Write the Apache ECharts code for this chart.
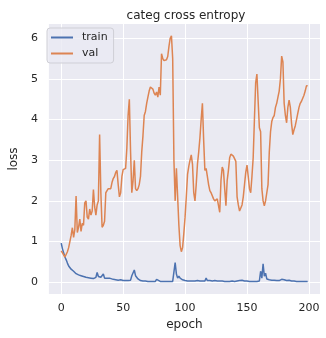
<!DOCTYPE html>
<html><head><meta charset="utf-8">
<script src="https://cdn.jsdelivr.net/npm/echarts@6/dist/echarts.min.js"></script>
<style>html,body{margin:0;padding:0;background:#fff}#c{width:326px;height:338px}</style>
</head><body><div id="c"></div>
<script>
const title = 'categ cross entropy';
const xName = 'epoch';
const yName = 'loss';
const xTicks = [0, 50, 100, 150, 200];
const yTicks = [0, 1, 2, 3, 4, 5, 6];
const trainEpochs = [0,1,2,3,4,5,6,7,8,9,10,11,12,13,14,15,16,17,18,19,20,21,22,23,24,25,26,27,28,29,30,31,32,33,34,35,36,37,38,39,40,42,44,46,48,50,52,54,56,57,58,59,60,61,62,64,66,68,70,72,74,76,77,78,80,82,84,86,88,90,91,92,93,94,95,96,97,98,100,102,104,106,107,108,110,112,114,116,117,118,120,122,124,126,128,130,132,134,136,138,140,142,144,145,146,148,150,152,154,156,158,160,161,162,163,164,165,166,167,168,170,172,174,176,178,179,180,182,184,186,188,190,192,194,196,198,199];
const trainLoss = [0.96,0.82,0.72,0.62,0.55,0.47,0.40,0.36,0.32,0.29,0.27,0.24,0.21,0.20,0.18,0.17,0.16,0.15,0.14,0.13,0.12,0.12,0.11,0.10,0.10,0.09,0.09,0.10,0.12,0.24,0.14,0.18,0.12,0.16,0.20,0.10,0.12,0.10,0.07,0.10,0.09,0.07,0.06,0.05,0.06,0.04,0.04,0.04,0.05,0.16,0.12,0.30,0.16,0.12,0.08,0.04,0.03,0.03,0.02,0.02,0.02,0.02,0.07,0.03,0.02,0.02,0.02,0.02,0.02,0.02,0.04,0.48,0.20,0.10,0.15,0.10,0.09,0.06,0.04,0.03,0.03,0.03,0.06,0.03,0.04,0.03,0.03,0.03,0.10,0.04,0.04,0.03,0.04,0.03,0.03,0.03,0.02,0.02,0.02,0.03,0.02,0.03,0.04,0.08,0.05,0.03,0.03,0.02,0.02,0.02,0.02,0.03,0.27,0.10,0.45,0.15,0.22,0.08,0.12,0.06,0.05,0.05,0.04,0.04,0.07,0.03,0.06,0.04,0.05,0.03,0.03,0.02,0.02,0.02,0.02,0.02,0.02];
const valEpochs = Array.from({length: 200}, (_, i) => i);
const valLoss = [0.77,0.72,0.70,0.62,0.65,0.75,0.85,1.00,1.15,1.34,1.10,1.30,2.12,1.22,1.35,1.55,1.25,1.45,1.40,1.95,2.00,1.60,1.55,1.80,1.65,1.75,2.28,1.85,1.65,1.90,2.00,3.63,2.20,1.35,1.40,1.50,2.20,2.25,2.30,2.32,2.30,2.45,2.55,2.60,2.70,2.75,2.40,2.10,2.20,2.60,2.77,2.78,2.80,3.30,4.10,4.50,3.20,2.20,2.50,3.00,2.30,2.25,2.30,2.40,2.60,3.20,3.60,4.10,4.20,4.40,4.55,4.70,4.80,4.80,4.75,4.65,4.60,4.68,4.55,4.80,4.60,5.62,5.50,5.45,5.47,5.47,5.55,5.80,6.00,6.06,5.50,3.00,2.00,2.80,2.10,1.40,0.90,0.75,0.85,1.20,1.60,2.10,2.65,2.85,3.00,3.13,2.90,2.20,2.00,2.40,2.90,3.20,3.55,4.00,4.40,3.50,2.75,2.80,2.60,2.40,2.25,2.20,2.18,2.05,2.00,2.03,2.05,2.07,1.72,2.50,2.83,2.75,2.30,1.88,2.50,2.75,3.06,3.15,3.18,3.10,3.06,2.97,2.10,1.90,1.75,1.71,1.90,2.10,2.40,2.70,2.88,2.60,2.30,2.20,2.60,3.06,4.00,4.90,5.12,5.14,3.80,3.70,2.30,2.00,1.88,2.00,2.20,2.40,3.20,3.70,3.95,4.05,4.10,4.30,4.40,4.55,4.70,5.00,5.56,5.42,4.40,4.10,3.92,4.30,4.48,4.30,3.90,3.63,3.75,3.85,4.00,4.15,4.30,4.40,4.45,4.48,4.60,4.70,4.83,4.83];

const txt = '#262626';
const font = 'DejaVu Sans';
const blue = '#4C72B0';
const orange = '#DD8452';
const chart = echarts.init(document.getElementById('c'), null, {renderer: 'canvas'});
chart.setOption({
  animation: false,
  backgroundColor: '#ffffff',
  title: {text: title, left: 181, top: 5, textAlign: 'center',
    textStyle: {fontFamily: font, fontSize: 12, fontWeight: 'normal', color: txt}},
  grid: {left: 42, right: 6, top: 24, bottom: 44, show: true, backgroundColor: '#EAEAF2', borderWidth: 0},
  legend: {
    data: [{name: 'train', icon: 'rect', itemStyle: {color: blue}}, {name: 'val', icon: 'rect', itemStyle: {color: orange}}],
    orient: 'vertical', left: 47, top: 28,
    backgroundColor: 'rgba(234,234,242,0.8)', borderColor: '#cfcfd6', borderWidth: 1, borderRadius: 3,
    padding: [3, 6, 3, 4], itemWidth: 22, itemHeight: 2, itemGap: 3,
    textStyle: {fontFamily: font, fontSize: 11, color: txt, padding: [0, 0, 0, 4], lineHeight: 13}
  },
  xAxis: {
    type: 'value', min: -9.95, max: 208.95, name: xName, nameLocation: 'middle', nameGap: 25,
    nameTextStyle: {fontFamily: font, fontSize: 12, color: txt},
    axisLine: {show: false}, axisTick: {show: false, customValues: xTicks},
    axisLabel: {customValues: xTicks, fontFamily: font, fontSize: 11, color: txt, margin: 9},
    splitLine: {show: true, lineStyle: {color: '#ffffff', width: 1}}
  },
  yAxis: {
    type: 'value', min: -0.29, max: 6.35, name: yName, nameLocation: 'middle', nameGap: 28,
    nameTextStyle: {fontFamily: font, fontSize: 12, color: txt},
    axisLine: {show: false}, axisTick: {show: false, customValues: yTicks},
    axisLabel: {customValues: yTicks, fontFamily: font, fontSize: 11, color: txt, margin: 11},
    splitLine: {show: true, lineStyle: {color: '#ffffff', width: 1}}
  },
  series: [
    {name: 'train', type: 'line', symbol: 'none', data: trainEpochs.map((e, i) => [e, trainLoss[i]]),
      lineStyle: {color: blue, width: 1.5}, itemStyle: {color: blue}},
    {name: 'val', type: 'line', symbol: 'none', data: valEpochs.map((e, i) => [e, valLoss[i]]),
      lineStyle: {color: orange, width: 1.5}, itemStyle: {color: orange}}
  ]
});
</script></body></html>
